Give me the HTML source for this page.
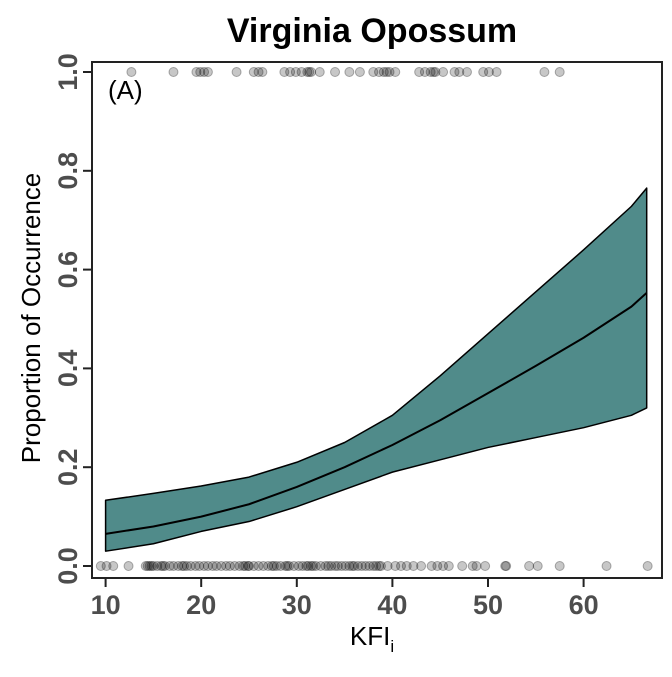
<!DOCTYPE html>
<html><head><meta charset="utf-8"><style>
body{margin:0;background:#fff;}
svg text{font-family:"Liberation Sans",Arial,sans-serif;}
</style></head><body>
<svg id="chart" width="672" height="672" viewBox="0 0 672 672" xmlns="http://www.w3.org/2000/svg">
<rect width="672" height="672" fill="#fff"/>
<g id="band"></g>
<g id="pts"></g>
<rect x="92" y="62" width="570" height="516" fill="none" stroke="#222" stroke-width="2"/>
<text x="372" y="42" font-size="34" font-weight="bold" text-anchor="middle">Virginia Opossum</text>
<text x="108" y="99" font-size="26">(A)</text>
<text x="372" y="645" font-size="26" text-anchor="middle">KFI<tspan font-size="17" dy="7">i</tspan></text>
<text transform="translate(40,318) rotate(-90)" font-size="26" text-anchor="middle">Proportion of Occurrence</text>
<g id="axes"></g>
</svg>
<script>
const xTicks=[10,20,30,40,50,60];
const yTicks=[0,0.2,0.4,0.6,0.8,1.0];
const yTickLabels=["0.0","0.2","0.4","0.6","0.8","1.0"];
const curveX=[10,15,20,25,30,35,40,45,50,55,60,65,66.6];
const meanP=[.065,.08,.10,.125,.16,.20,.245,.295,.35,.405,.462,.525,.553];
const upperP=[.133,.147,.162,.18,.21,.25,.305,.385,.47,.555,.64,.728,.765];
const lowerP=[.03,.045,.07,.09,.12,.155,.19,.215,.24,.26,.28,.305,.32];
const presentX=[12.7,17.1,19.5,19.9,20.3,20.7,23.7,25.5,26.0,26.4,28.7,29.3,29.9,30.5,31.1,31.3,31.5,32.4,34.0,35.5,36.6,38.0,38.6,39.1,39.4,39.7,40.3,42.8,43.4,44.0,44.3,44.5,45.3,46.5,47.0,47.8,49.5,50.1,50.9,55.9,57.5];
const absentX=[9.5,10.1,10.8,12.4,14.2,14.4,14.6,14.8,15.0,15.4,15.8,16.0,16.2,16.7,17.1,17.6,18.0,18.2,18.5,18.9,19.4,19.8,20.3,20.7,21.2,21.6,22.1,22.6,23.0,23.5,24.0,24.4,24.6,24.9,25.0,25.5,26.0,26.5,27.0,27.4,27.6,27.9,28.3,28.8,29.0,29.2,29.7,30.2,30.6,31.0,31.2,31.5,31.7,32.0,32.5,33.0,33.3,33.6,34.0,34.3,34.7,35.1,35.5,35.8,36.0,36.4,36.8,37.2,37.6,38.0,38.3,38.6,38.8,39.5,40.3,40.9,41.5,42.2,43.0,44.1,44.7,45.3,45.9,47.3,48.4,48.8,49.7,51.8,51.9,54.3,55.2,57.5,62.4,66.7];
const X=v=>105.6+(v-10)*9.56;
const Y=p=>566-p*494;
const NS="http://www.w3.org/2000/svg";
function mk(t,a,parent){const e=document.createElementNS(NS,t);for(const k in a)e.setAttribute(k,a[k]);parent.appendChild(e);return e;}
const band=document.getElementById('band');
let d=curveX.map((x,i)=>(i?'L':'M')+X(x)+','+Y(upperP[i])).join('');
for(let i=curveX.length-1;i>=0;i--)d+='L'+X(curveX[i])+','+Y(lowerP[i]);
const poly=mk('path',{d:d+'Z',fill:'#508b8a',stroke:'#000','stroke-width':1.5,'stroke-linejoin':'round'},band);


const ml=mk('path',{d:curveX.map((x,i)=>(i?'L':'M')+X(x)+','+Y(meanP[i])).join(''),fill:'none',stroke:'#000','stroke-width':2,'stroke-linejoin':'round'},band);


const pts=document.getElementById('pts');
presentX.forEach(v=>{const c=mk('circle',{cx:X(v),cy:Y(1),r:4.5,fill:'rgba(0,0,0,0.22)',stroke:'rgba(0,0,0,0.3)'},pts);

});
absentX.forEach(v=>{const c=mk('circle',{cx:X(v),cy:Y(0),r:4.5,fill:'rgba(0,0,0,0.22)',stroke:'rgba(0,0,0,0.3)'},pts);

});
const ax=document.getElementById('axes');
xTicks.forEach(v=>{mk('line',{x1:X(v),x2:X(v),y1:578,y2:587,stroke:'#222','stroke-width':2},ax);
const t=mk('text',{x:X(v),y:614,'font-size':27,'font-weight':'bold',fill:'#4d4d4d','text-anchor':'middle'},ax);t.textContent=v;

});
yTicks.forEach((v,i)=>{mk('line',{x1:83,x2:92,y1:Y(v),y2:Y(v),stroke:'#222','stroke-width':2},ax);
const t=mk('text',{transform:`translate(77,${Y(v)}) rotate(-90)`,'font-size':27,'font-weight':'bold',fill:'#4d4d4d','text-anchor':'middle'},ax);t.textContent=yTickLabels[i];

});
</script>
</body></html>
